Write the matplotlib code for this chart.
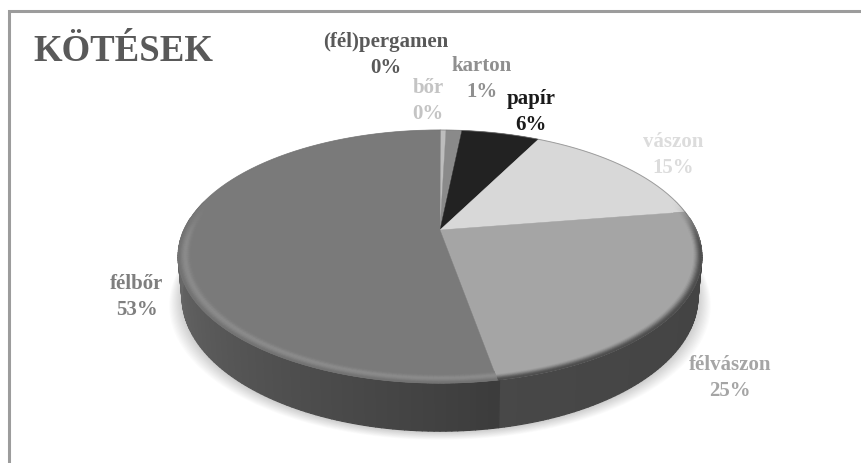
import numpy as np
from matplotlib import pyplot as plt
from matplotlib.collections import PolyCollection

plt.rcParams["font.family"] = ["Liberation Serif", "DejaVu Serif"]

# clockwise from 12 o'clock
categories = ["(fél)pergamen", "bőr", "karton", "papír", "vászon", "félvászon", "félbőr"]
values = [0.05, 0.4, 1.2, 5.9, 15.0, 24.6, 52.85]
slice_colors = ["#595959", "#bdbdbd", "#8a8a8a", "#222222", "#d8d8d8", "#a5a5a5", "#7a7a7a"]
text_colors = ["#595959", "#c4c4c4", "#8f8f8f", "#1a1a1a", "#dcdcdc", "#a5a5a5", "#7f7f7f"]
label_spots = [(386, 55), (428, 101), (482, 79), (531, 112), (673, 155), (730, 378), (137, 297)]

CX, CY = 440, 231
A, B, K = 121, 256, 0.21


def project(r, theta):
    # theta clockwise from the top of the disc, tilted view
    x = r * np.sin(theta)
    y = r * np.cos(theta)
    den = 1 + K * y
    return CX + B * x / den, CY - A * y / den


def wall(theta):
    # lower edge of the pie side under the rim
    x, y = project(1.0, theta)
    depth = 38 - 10 * np.cos(theta)
    return CX + (x - CX) * 0.985, y + depth


def gray(hex_color):
    return int(hex_color[1:3], 16) / 255


def smooth(a, b, t):
    u = np.clip((t - a) / (b - a), 0, 1)
    return u * u * (3 - 2 * u)


def bevel_gray(base, t, front):
    # t goes 0..1 across the rim, front fades the bevel out towards the back
    if base < 0.5:
        g = base + 0.07 * np.exp(-(((t - 0.5) / 0.25) ** 2)) - 0.03 * smooth(0.7, 1, t)
    else:
        g = base + (0.3 - base) * smooth(0.35, 1, t)
    return base + (g - base) * front


fig = plt.figure(figsize=(8.61, 4.64), dpi=100)
ax = fig.add_axes([0, 0, 1, 1])
ax.set_xlim(0, 861)
ax.set_ylim(464, 0)
ax.axis("off")
# only the top and left of the frame are in the picture
ax.plot([8.5, 8.5, 861], [464, 12, 12], color="#9c9c9c", lw=2.2, solid_joinstyle="miter")

edges = np.cumsum([0] + values) / sum(values) * 2 * np.pi

# soft shadow
ring = np.linspace(0, 2 * np.pi, 240)
for grow in np.linspace(13, 1, 12):
    sx, sy = wall(ring)
    ax.fill(CX + (sx - CX) * (1 + grow / 260), sy + 1 + grow * 0.6, color="k", alpha=0.016, lw=0)

# side wall, strip by strip
steps = np.linspace(np.pi / 2 - 0.1, 3 * np.pi / 2 + 0.1, 181)
strips = []
strip_colors = []
for th0, th1 in zip(steps[:-1], steps[1:]):
    mid = (th0 + th1) / 2
    x0, y0 = project(1.0, th0)
    x1, y1 = project(1.0, th1)
    bx0, by0 = wall(th0)
    bx1, by1 = wall(th1)
    strips.append([(x0, y0), (x1, y1), (bx1, by1), (bx0, by0)])
    if mid < edges[6]:
        g = 0.285 - 0.02 * np.sin(mid)
    else:
        # dark near the front, lighter towards the left
        g = 0.235 + 0.185 * (mid - edges[6]) / (3 * np.pi / 2 - edges[6])
    strip_colors.append((g, g, g))
ax.add_collection(PolyCollection(strips, facecolors=strip_colors, edgecolors=strip_colors, linewidths=0.9))

# flat top
for i, color in enumerate(slice_colors):
    th = np.linspace(edges[i], edges[i + 1], 80)
    px, py = project(1.0, th)
    ax.fill(np.r_[CX, px], np.r_[CY, py], color=color, lw=0.3)

# faint edge on the back of the disc
back = np.linspace(-np.pi / 2 - 0.1, np.pi / 2 + 0.1, 160)
ax.plot(*project(1.0, back), color="#707070", lw=0.7, alpha=0.6)

# rim bevel on the front
radii = np.linspace(0.95, 1.0, 13)
quads = []
quad_colors = []
for i, color in enumerate(slice_colors):
    th = np.linspace(edges[i], edges[i + 1], max(3, int((edges[i + 1] - edges[i]) * 60)))
    for th0, th1 in zip(th[:-1], th[1:]):
        mid = (th0 + th1) / 2
        front = smooth(-0.25, 0.15, -np.cos(mid))
        if front == 0:
            continue
        for r0, r1 in zip(radii[:-1], radii[1:]):
            x00, y00 = project(r0, th0)
            x01, y01 = project(r0, th1)
            x10, y10 = project(r1, th0)
            x11, y11 = project(r1, th1)
            quads.append([(x00, y00), (x01, y01), (x11, y11), (x10, y10)])
            g = bevel_gray(gray(color), (r0 + r1 - 2 * radii[0]) / 2 / (1 - radii[0]), front)
            quad_colors.append((g, g, g))
ax.add_collection(PolyCollection(quads, facecolors=quad_colors, edgecolors=quad_colors, linewidths=0.5))

# labels
for name, val, col, (lx, ly) in zip(categories, values, text_colors, label_spots):
    ax.text(lx, ly, f"{name}\n{round(val)}%", color=col, fontsize=15, fontweight="bold",
            ha="center", va="center", linespacing=1.42)
ax.text(33, 61, "KÖTÉSEK", color="#595959", fontsize=26.5, fontweight="bold", ha="left", va="baseline")

fig.savefig("out.png", dpi=100)
plt.close(fig)
